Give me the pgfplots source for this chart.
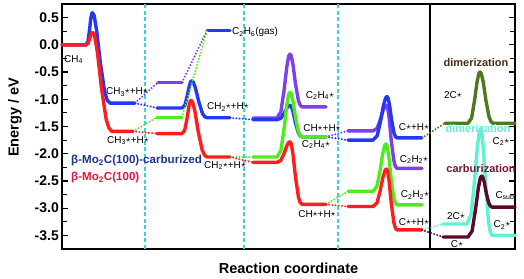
\documentclass[border=0pt]{standalone}
\usepackage{fontspec}
\setmainfont{Liberation Sans}
\usepackage{pgfplots}
\pgfplotsset{compat=1.18}
\definecolor{cred}{RGB}{255,30,30}
\definecolor{cblue}{RGB}{35,55,245}
\definecolor{cpurp}{RGB}{125,65,235}
\definecolor{cgreen}{RGB}{80,235,30}
\definecolor{colive}{RGB}{80,120,30}
\definecolor{ccyan}{RGB}{95,240,215}
\definecolor{cmaroon}{RGB}{90,10,40}
\definecolor{cdash}{RGB}{60,210,220}
\definecolor{cnavy}{RGB}{30,50,140}
\definecolor{clabred}{RGB}{230,20,60}
\definecolor{cdimer}{RGB}{70,45,25}
\definecolor{ccarb}{RGB}{120,20,50}
\newcommand{\st}{\raisebox{0.12em}{\ensuremath{\star}}}
\newcommand{\sub}[1]{\textsubscript{#1}}
\pgfplotsset{
  sol/.style={sharp plot, line width=3.4bp, line join=round, line cap=round},
  dotl/.style={line width=2.2bp, line cap=round, dash pattern=on 0bp off 3.2bp},
}
\begin{document}
\begin{tikzpicture}
\useasboundingbox (-62bp,-30bp) rectangle (462bp,249bp);
\begin{axis}[
  at={(0,0)}, anchor=south west,
  scale only axis, width=453bp, height=245bp,
  xmin=62, xmax=515, ymin=-3.75, ymax=0.75,
  clip=false,
  xtick=\empty,
  ytick={-3.5,-3,-2.5,-2,-1.5,-1,-0.5,0,0.5},
  yticklabels={-3.5,-3.0,-2.5,-2.0,-1.5,-1.0,-0.5,0.0,0.5},
  minor ytick={-3.25,-2.75,-2.25,-1.75,-1.25,-0.75,-0.25,0.25},
  ytick pos=both,
  tick align=inside,
  major tick length=6bp, minor tick length=5bp,
  every tick/.style={black, line width=1.2bp},
  axis line style={line width=1.6bp},
  yticklabel style={font=\bfseries\fontsize{14bp}{16bp}\selectfont, inner sep=1bp, xshift=-2bp},
  every node/.append style={font=\fontsize{12bp}{14bp}\selectfont},
]
% separators
\addplot[cdash, line width=1.3bp, dash pattern=on 4bp off 2.5bp] coordinates {(145,-3.75) (145,0.75)};
\addplot[cdash, line width=1.3bp, dash pattern=on 4bp off 2.5bp] coordinates {(244,-3.75) (244,0.75)};
\addplot[cdash, line width=1.3bp, dash pattern=on 4bp off 2.5bp] coordinates {(338,-3.75) (338,0.75)};
\addplot[black, line width=1.5bp] coordinates {(430,-3.75) (430,0.75)};

% purple pathway
\addplot[cpurp, dotl] coordinates {(135,-1.07) (158,-0.69)};
\addplot[cpurp, sol] coordinates {(158,-0.69) (182,-0.69)};
\addplot[cpurp, dotl] coordinates {(182,-0.69) (207,0.26)};
\addplot[cpurp, sol] coordinates {(253,-1.345) (277,-1.345) (280.9,-1.228) (284.2,-0.816) (286.8,-0.405) (288.7,-0.205) (290,-0.17)
  (291.2,-0.199) (293,-0.364) (295.4,-0.704) (298.4,-1.024) (300.2,-1.111) (302,-1.14) (326,-1.14)};
\addplot[cpurp, dotl] coordinates {(326,-1.69) (348,-1.58)};
\addplot[cpurp, sol] coordinates {(348,-1.58) (373,-1.58) (377.1,-1.533) (380.4,-1.369) (383.1,-1.204) (385.2,-1.124) (386.5,-1.11)
  (387.6,-1.145) (389.1,-1.342) (391.2,-1.748) (393.9,-2.131) (395.4,-2.235) (397,-2.27) (422,-2.27)};

% blue
\addplot[cblue, sol] coordinates {(62,0) (86,0) (87.9,0.059) (89.5,0.266) (90.7,0.472) (91.7,0.572) (92.3,0.59)
  (94.1,0.54) (96.7,0.258) (100.3,-0.323) (104.7,-0.871) (107.3,-1.02) (110,-1.07) (135,-1.07)};
\addplot[cblue, dotl] coordinates {(135,-1.07) (157,-1.16)};
\addplot[cblue, sol] coordinates {(157,-1.16) (182,-1.16) (184.9,-1.11) (187.3,-0.935) (189.3,-0.76) (190.7,-0.675) (191.7,-0.66)
  (193.2,-0.68) (195.5,-0.796) (198.6,-1.034) (202.4,-1.258) (204.7,-1.32) (207,-1.34) (230,-1.34)};
\addplot[cblue, dotl] coordinates {(230,-1.34) (253,-1.375)};
\addplot[cblue, sol] coordinates {(253,-1.375) (277,-1.375) (280.9,-1.349) (284.2,-1.256) (286.8,-1.163) (288.7,-1.118) (290,-1.11)
  (291.2,-1.127) (293,-1.226) (295.4,-1.429) (298.4,-1.62) (300.2,-1.673) (302,-1.69) (326,-1.69)};
\addplot[cblue, dotl] coordinates {(326,-1.69) (348,-1.75)};
\addplot[cblue, sol] coordinates {(348,-1.75) (373,-1.75) (377.2,-1.67) (380.7,-1.39) (383.5,-1.11) (385.6,-0.974) (387,-0.95)
  (388,-0.973) (389.5,-1.102) (391.5,-1.368) (394,-1.619) (395.5,-1.687) (397,-1.71) (422,-1.71)};
\addplot[cblue, sol] coordinates {(207,0.26) (230,0.26)};

% green
\addplot[cgreen, dotl] coordinates {(133,-1.59) (157,-1.33)};
\addplot[cgreen, sol] coordinates {(157,-1.33) (182,-1.33)};
\addplot[cgreen, dotl] coordinates {(182,-1.33) (207,0.26)};
\addplot[cgreen, dotl] coordinates {(230,-2.06) (253,-2.06)};
\addplot[cgreen, sol] coordinates {(253,-2.06) (277,-2.06) (280.9,-1.941) (284.2,-1.525) (286.8,-1.108) (288.7,-0.906) (290,-0.87)
  (291.2,-0.895) (293,-1.034) (295.4,-1.321) (298.4,-1.592) (300.2,-1.665) (302,-1.69) (326,-1.69)};
\addplot[cgreen, dotl] coordinates {(326,-2.93) (348,-2.69)};
\addplot[cgreen, sol] coordinates {(348,-2.69) (373,-2.69) (376.9,-2.603) (380.2,-2.299) (382.8,-1.994) (384.7,-1.846) (386,-1.82)
  (387.1,-1.854) (388.8,-2.044) (391,-2.436) (393.7,-2.806) (395.4,-2.906) (397,-2.94) (422,-2.94)};

% red
\addplot[cred, sol] coordinates {(62,0) (86,0) (88,0.023) (89.6,0.104) (90.9,0.184) (91.9,0.223) (92.5,0.23)
  (94.5,0.175) (97.4,-0.134) (101.3,-0.771) (106.2,-1.372) (109.1,-1.535) (112,-1.59) (133,-1.59)};
\addplot[cred, dotl] coordinates {(133,-1.59) (157,-1.63)};
\addplot[cred, sol] coordinates {(157,-1.63) (182,-1.63) (184.7,-1.569) (187,-1.356) (188.8,-1.142) (190.1,-1.038) (191,-1.02)
  (192.6,-1.051) (195,-1.228) (198.2,-1.592) (202.2,-1.935) (204.6,-2.029) (207,-2.06) (230,-2.06)};
\addplot[cred, dotl] coordinates {(230,-2.06) (253,-2.16)};
\addplot[cred, sol] coordinates {(253,-2.16) (277,-2.16) (280.9,-2.122) (284.2,-1.989) (286.8,-1.856) (288.7,-1.791) (290,-1.78)
  (291.2,-1.815) (293,-2.01) (295.4,-2.413) (298.4,-2.792) (300.2,-2.896) (302,-2.93) (326,-2.93)};
\addplot[cred, dotl] coordinates {(326,-2.93) (348,-2.97)};
\addplot[cred, sol] coordinates {(348,-2.97) (373,-2.97) (377.1,-2.901) (380.4,-2.66) (383.1,-2.418) (385.2,-2.301) (386.5,-2.28)
  (387.6,-2.314) (389.1,-2.504) (391.2,-2.896) (393.9,-3.266) (395.4,-3.366) (397,-3.40) (422,-3.40)};

% right panel
\addplot[colive, dotl] coordinates {(422,-1.71) (445,-1.44)};
\addplot[colive, sol] coordinates {(445,-1.44) (468,-1.44) (471.6,-1.346) (474.6,-1.017) (477,-0.688) (478.8,-0.528) (480,-0.5)
  (481.3,-0.528) (483.3,-0.688) (485.9,-1.017) (489.1,-1.327) (491.1,-1.412) (493,-1.44) (515,-1.44)};
\addplot[ccyan, dotl] coordinates {(422,-3.40) (443,-3.29)};
\addplot[ccyan, sol] coordinates {(443,-3.29) (467,-3.29) (471.1,-3.115) (474.5,-2.503) (477.3,-1.89) (479.3,-1.593) (480.7,-1.54)
  (481.8,-1.599) (483.5,-1.932) (485.8,-2.618) (488.6,-3.265) (490.3,-3.441) (492,-3.50) (515,-3.50)};
\addplot[cmaroon, dotl] coordinates {(422,-3.40) (443,-3.53)};
\addplot[cmaroon, sol] coordinates {(443,-3.53) (468,-3.53) (472.1,-3.418) (475.5,-3.026) (478.3,-2.634) (480.3,-2.444) (481.7,-2.41)
  (482.7,-2.427) (484.3,-2.524) (486.3,-2.724) (488.9,-2.912) (490.5,-2.963) (492,-2.98) (515,-2.98)};

% axis titles
\node[rotate=90, font=\bfseries\fontsize{14.5bp}{16bp}\selectfont] at ([xshift=-47bp, yshift=9bp]rel axis cs:0,0.5) {Energy / eV};
\node[font=\bfseries\fontsize{14.5bp}{16bp}\selectfont] at ([yshift=-19bp]rel axis cs:0.5,0) {Reaction coordinate};

% labels
\node[anchor=west, inner sep=0pt] at (axis cs:64,-0.27) {CH\sub{4}};
\node at (axis cs:127,-0.87) {CH\sub{3}\st+H\st};
\node at (axis cs:128,-1.76) {CH\sub{3}\st+H\st};
\node at (axis cs:228,-1.14) {CH\sub{2}\st+H\st};
\node at (axis cs:225,-2.22) {CH\sub{2}\st+H\st};
\node[anchor=west, inner sep=0pt] at (axis cs:232,0.23) {C\sub{2}H\sub{6}(gas)};
\node at (axis cs:320,-0.93) {C\sub{2}H\sub{4}\st};
\node at (axis cs:322,-1.53) {CH\st+H\st};
\node at (axis cs:316,-1.83) {C\sub{2}H\sub{4}\st};
\node at (axis cs:317,-3.11) {CH\st+H\st};
\node at (axis cs:414,-1.51) {C\st+H\st};
\node at (axis cs:414,-2.11) {C\sub{2}H\sub{2}\st};
\node at (axis cs:415,-2.76) {C\sub{2}H\sub{2}\st};
\node at (axis cs:414,-3.26) {C\st+H\st};
\node[text=cdimer, font=\bfseries\fontsize{11bp}{13bp}\selectfont] at (axis cs:476,-0.32) {dimerization};
\node at (axis cs:453,-0.93) {2C\st};
\node[text=ccyan, font=\bfseries\fontsize{11bp}{13bp}\selectfont] at (axis cs:478,-1.53) {dimerization};
\node at (axis cs:501,-1.78) {C\sub{2}\st};
\node[text=ccarb, font=\bfseries\fontsize{11bp}{13bp}\selectfont] at (axis cs:481,-2.27) {carburization};
\node at (axis cs:505,-2.77) {C\sub{sub}};
\node at (axis cs:456,-3.14) {2C\st};
\node at (axis cs:502,-3.31) {C\sub{2}\st};
\node at (axis cs:457,-3.66) {C\st};
\node[anchor=west, inner sep=0pt, text=cnavy, font=\bfseries\fontsize{11.6bp}{13bp}\selectfont] at (axis cs:71,-2.13) {β-Mo\sub{2}C(100)-carburized};
\node[anchor=west, inner sep=0pt, text=clabred, font=\bfseries\fontsize{11.6bp}{13bp}\selectfont] at (axis cs:71,-2.44) {β-Mo\sub{2}C(100)};
\end{axis}
\end{tikzpicture}
\end{document}
